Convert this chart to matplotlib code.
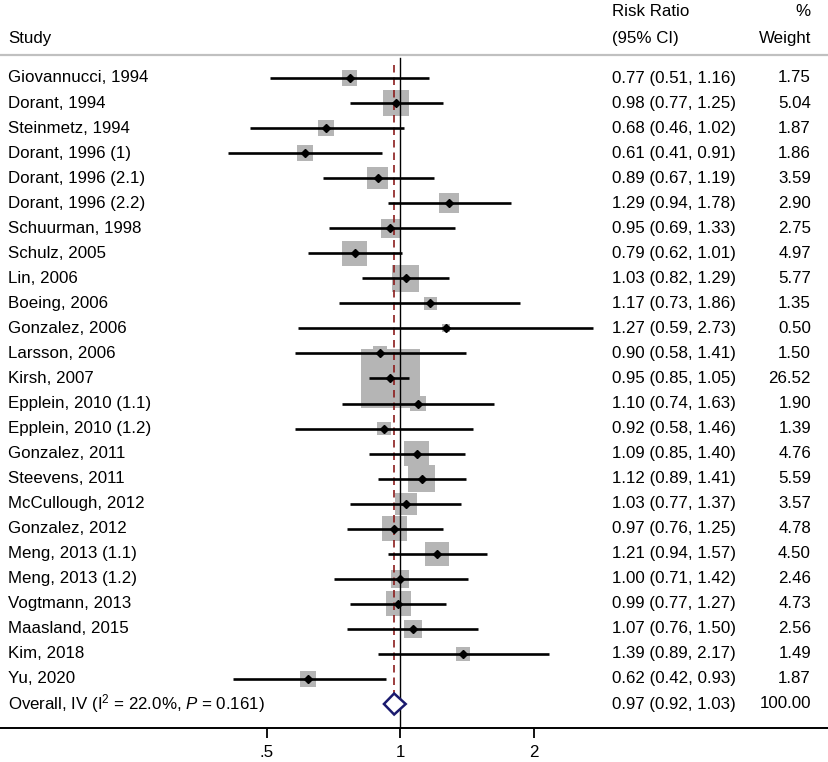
import matplotlib.pyplot as plt
import matplotlib.transforms as mtransforms
import numpy as np

plt.rcParams['font.family'] = ['Liberation Sans', 'DejaVu Sans']
plt.rcParams['mathtext.fontset'] = 'custom'
plt.rcParams['mathtext.rm'] = 'Liberation Sans'
plt.rcParams['mathtext.it'] = 'Liberation Sans:italic'

studies = ['Giovannucci, 1994', 'Dorant, 1994', 'Steinmetz, 1994', 'Dorant, 1996 (1)',
           'Dorant, 1996 (2.1)', 'Dorant, 1996 (2.2)', 'Schuurman, 1998', 'Schulz, 2005',
           'Lin, 2006', 'Boeing, 2006', 'Gonzalez, 2006', 'Larsson, 2006', 'Kirsh, 2007',
           'Epplein, 2010 (1.1)', 'Epplein, 2010 (1.2)', 'Gonzalez, 2011', 'Steevens, 2011',
           'McCullough, 2012', 'Gonzalez, 2012', 'Meng, 2013 (1.1)', 'Meng, 2013 (1.2)',
           'Vogtmann, 2013', 'Maasland, 2015', 'Kim, 2018', 'Yu, 2020']
rr = [0.77, 0.98, 0.68, 0.61, 0.89, 1.29, 0.95, 0.79, 1.03, 1.17, 1.27, 0.90, 0.95,
      1.10, 0.92, 1.09, 1.12, 1.03, 0.97, 1.21, 1.00, 0.99, 1.07, 1.39, 0.62]
lo = [0.51, 0.77, 0.46, 0.41, 0.67, 0.94, 0.69, 0.62, 0.82, 0.73, 0.59, 0.58, 0.85,
      0.74, 0.58, 0.85, 0.89, 0.77, 0.76, 0.94, 0.71, 0.77, 0.76, 0.89, 0.42]
hi = [1.16, 1.25, 1.02, 0.91, 1.19, 1.78, 1.33, 1.01, 1.29, 1.86, 2.73, 1.41, 1.05,
      1.63, 1.46, 1.40, 1.41, 1.37, 1.25, 1.57, 1.42, 1.27, 1.50, 2.17, 0.93]
weight = [1.75, 5.04, 1.87, 1.86, 3.59, 2.90, 2.75, 4.97, 5.77, 1.35, 0.50, 1.50, 26.52,
          1.90, 1.39, 4.76, 5.59, 3.57, 4.78, 4.50, 2.46, 4.73, 2.56, 1.49, 1.87]
overall_label = 'Overall, IV (I$^{2}$ = 22.0%, $P$ = 0.161)'
overall_rr, overall_lo, overall_hi = 0.97, 0.92, 1.03
xticks = [0.5, 1, 2]
xticklabels = ['.5', '1', '2']

W, H = 829, 762
fs = 12.2
fig = plt.figure(figsize=(W / 100, H / 100), dpi=100)
ax = fig.add_axes([0, (H - 728) / H, 1, 728 / H])
ax.set_xscale('log')
ax.set_xlim(2 ** (-400 / 133.5), 2 ** ((W - 400) / 133.5))
ax.set_ylim((728 - 78) / 25.04, -78 / 25.04)

n = len(studies)
y = np.arange(n)
trans = mtransforms.blended_transform_factory(ax.transAxes, ax.transData)

# squares sized by weight
side = 59 * np.sqrt(np.array(weight) / max(weight)) / 1.389
ax.scatter(rr, y, s=side ** 2, marker='s', color='#b5b5b5', linewidths=0, zorder=1)

# reference lines
ax.plot([1, 1], [-0.8, 30], color='black', lw=1.0, zorder=2)
ax.plot([overall_rr, overall_rr], [-0.5, n + 0.3], color='#8b1c1c', lw=1.2,
        ls=(0, (4.5, 3)), zorder=2)

# confidence intervals and point estimates
ax.hlines(y, lo, hi, color='black', lw=1.9, zorder=3)
ax.plot(rr, y, 'D', color='black', ms=4.2, zorder=4)

# overall diamond
dy = 0.42
ax.fill([overall_lo, overall_rr, overall_hi, overall_rr],
        [n, n - dy, n, n + dy], facecolor='white', edgecolor='#1a1a6e', lw=1.8, zorder=5)

# text columns
for i in range(n):
    ax.text(8 / W, i, studies[i], transform=trans, fontsize=fs, va='center', ha='left')
    ax.text(612 / W, i, f'{rr[i]:.2f} ({lo[i]:.2f}, {hi[i]:.2f})', transform=trans,
            fontsize=fs, va='center', ha='left')
    ax.text(811 / W, i, f'{weight[i]:.2f}', transform=trans, fontsize=fs,
            va='center', ha='right')
ax.text(8 / W, n, overall_label, transform=trans, fontsize=fs, va='center', ha='left')
ax.text(612 / W, n, f'{overall_rr:.2f} ({overall_lo:.2f}, {overall_hi:.2f})',
        transform=trans, fontsize=fs, va='center', ha='left')
ax.text(811 / W, n, '100.00', transform=trans, fontsize=fs, va='center', ha='right')

# header
r1 = (12 - 78) / 25.04
r2 = (38 - 78) / 25.04
ax.text(8 / W, r2, 'Study', transform=trans, fontsize=fs, va='center', ha='left')
ax.text(612 / W, r1, 'Risk Ratio', transform=trans, fontsize=fs, va='center', ha='left')
ax.text(612 / W, r2, '(95% CI)', transform=trans, fontsize=fs, va='center', ha='left')
ax.text(811 / W, r1, '%', transform=trans, fontsize=fs, va='center', ha='right')
ax.text(811 / W, r2, 'Weight', transform=trans, fontsize=fs, va='center', ha='right')
ax.axhline((55 - 78) / 25.04, color='#c0c0c0', lw=1.6)

# axis
for s in ['top', 'left', 'right']:
    ax.spines[s].set_visible(False)
ax.spines['bottom'].set_linewidth(1.4)
ax.set_yticks([])
ax.set_xticks(xticks)
ax.set_xticklabels(xticklabels)
ax.minorticks_off()
ax.tick_params(axis='x', direction='out', length=7.5, width=1.3, labelsize=fs, pad=5)

fig.savefig('out.png', dpi=100)
